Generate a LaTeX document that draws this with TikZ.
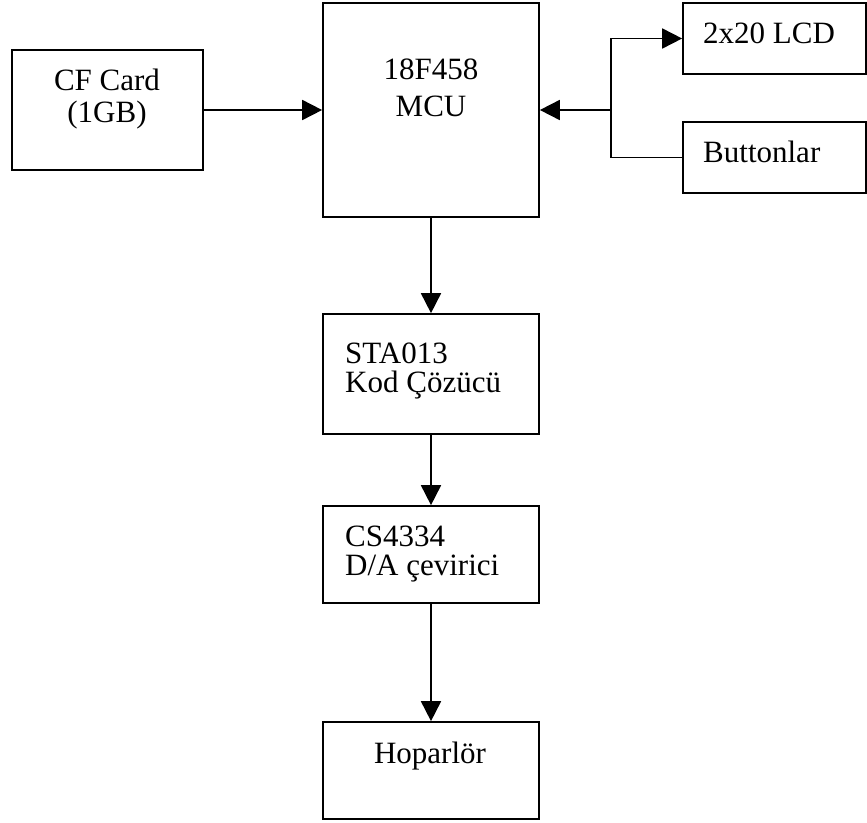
\documentclass[tikz,border=0pt]{standalone}
\usepackage{fontspec}
\setmainfont{Liberation Serif}
\usetikzlibrary{arrows.meta}
\begin{document}
\begin{tikzpicture}[x=1pt,y=-1pt,
  blk/.style={draw,line width=1.7pt,inner sep=0pt,rectangle},
  lbl/.style={inner sep=0pt,font=\fontsize{31}{36}\selectfont},
  arr/.style={line width=1.8pt,-{Triangle[length=20pt,width=20pt]}},
  ln/.style={line width=1.8pt}]
\useasboundingbox (0,0) rectangle (867,822);
\newcommand\boxat[5]{\node[blk,minimum width=#4-#2,minimum height=#5-#3] (#1) at ({(#2+#4)/2},{(#3+#5)/2}) {};}
\boxat{cf}{12}{50}{203}{170}
\boxat{mcu}{323}{3}{539}{217}
\boxat{lcd}{683}{3}{866}{74}
\boxat{btn}{683}{122}{866}{193}
\boxat{sta}{323}{314}{539}{434}
\boxat{cs}{323}{506}{539}{603}
\boxat{hop}{323}{722}{539}{819}
% texts
\node[lbl,anchor=base] (cft1) at (107,90) {CF Card};
\node[lbl,anchor=base] (cft2) at (107,122) {(1GB)};
\node[lbl,anchor=base] (mcut1) at (431,79) {18F458};
\node[lbl,anchor=base] (mcut2) at (431,116) {MCU};
\node[lbl,anchor=base west] (lcdt) at (703,43) {2x20 LCD};
\node[lbl,anchor=base west] (btnt) at (703,162) {Buttonlar};
\node[lbl,anchor=base west] (stat1) at (345,363) {STA013};
\node[lbl,anchor=base west] (stat2) at (345,392) {Kod Çözücü};
\node[lbl,anchor=base west] (cst1) at (345,546) {CS4334};
\node[lbl,anchor=base west] (cst2) at (345,575) {D/A çevirici};
\node[lbl,anchor=base] (hopt) at (430,763) {Hoparlör};
% connectors
\draw[arr] (cf.east) -- (cf.east -| mcu.west);
\coordinate (j) at (611,110);
\draw[arr] (j) -- (j -| mcu.east);
\draw[arr] (j) |- (lcd.west);
\draw[ln] (j) |- (btn.west);
\draw[arr] (mcu.south) -- (sta.north);
\draw[arr] (sta.south) -- (cs.north);
\draw[arr] (cs.south) -- (hop.north);
\end{tikzpicture}
\end{document}
